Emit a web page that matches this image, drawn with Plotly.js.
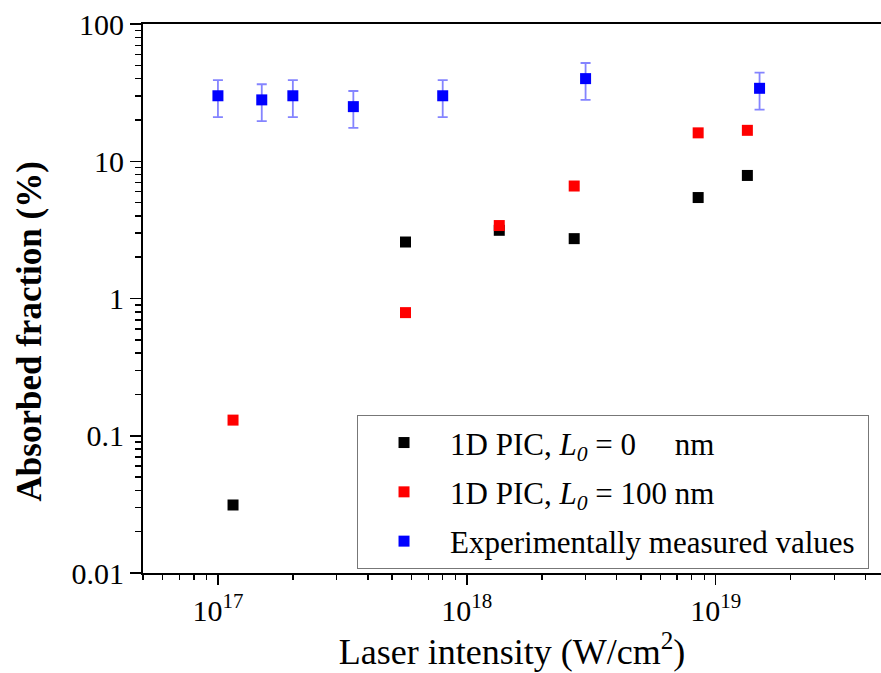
<!DOCTYPE html>
<html>
<head>
<meta charset="utf-8">
<script src="https://cdn.plot.ly/plotly-3.0.1.min.js"></script>
<style>html,body{margin:0;padding:0;background:#fff;overflow:hidden}</style>
</head>
<body>
<div id="chart" style="width:881px;height:673px"></div>
<script>
// PIC simulation intensities (W/cm^2)
const picIntensity = [1.15e17, 5.67e17, 1.35e18, 2.7e18, 8.5e18, 1.34e19];
// 1D PIC, L0 = 0 nm (%)
const pic0Absorbed = [0.0313, 2.58, 3.14, 2.73, 5.44, 7.88];
// 1D PIC, L0 = 100 nm (%)
const pic100Absorbed = [0.130, 0.789, 3.40, 6.6, 16.1, 16.8];
// Experiment
const expIntensity = [1.0e17, 1.5e17, 2.0e17, 3.5e17, 8.0e17, 3.0e18, 1.5e19];
const expAbsorbed = [30, 28, 30, 25, 30, 40, 34];
const expError = [9, 8.4, 9, 7.5, 9, 12, 10.2];

const seriesNames = [
  '1D PIC, <i>L</i><sub><i>0</i></sub> = 0\u00a0\u00a0\u00a0\u00a0\u00a0nm',
  '1D PIC, <i>L</i><sub><i>0</i></sub> = 100 nm',
  'Experimentally measured values\u00a0'
];
const xTickVals = [1e17, 1e18, 1e19];
const xTickText = ['10<sup>17</sup>', '10<sup>18</sup>', '10<sup>19</sup>'];
const yTickVals = [0.01, 0.1, 1, 10, 100];
const yTickText = ['0.01', '0.1', '1', '10', '100'];
const yTitle = '<b>Absorbed fraction (%)</b>';
const xTitle = 'Laser intensity (W/cm<sup>2</sup>)';

const FONT = 'Liberation Serif, Times New Roman, serif';

const traces = [
  {x: picIntensity, y: pic0Absorbed, name: seriesNames[0], type: 'scatter', mode: 'markers', legendgroup: 'a',
   marker: {symbol: 'square', size: 11, color: '#000000'}},
  {x: picIntensity, y: pic100Absorbed, name: seriesNames[1], type: 'scatter', mode: 'markers', legendgroup: 'b',
   marker: {symbol: 'square', size: 11, color: '#ff0000'}},
  {x: expIntensity, y: expAbsorbed, name: seriesNames[2], type: 'scatter', mode: 'markers', legendgroup: 'c',
   marker: {symbol: 'square', size: 11, color: '#0000ff'},
   error_y: {type: 'data', array: expError, visible: true, color: 'rgba(50,50,255,0.6)', thickness: 1.8, width: 5}}
];

const layout = {
  width: 881, height: 673,
  margin: {l: 143, r: 0, t: 24, b: 100},
  paper_bgcolor: '#fff', plot_bgcolor: '#fff',
  font: {family: FONT, color: '#000', size: 30},
  showlegend: true,
  legend: {
    x: 0.29, y: 0.288, xanchor: 'left', yanchor: 'top',
    bgcolor: '#fff', bordercolor: '#777', borderwidth: 1,
    font: {family: FONT, size: 31, color: '#000'},
    traceorder: 'grouped', tracegroupgap: 6, itemwidth: 82
  },
  xaxis: {
    type: 'log', range: [Math.log10(5e16), 19.664],
    showgrid: false, zeroline: false,
    showline: true, linecolor: '#000', linewidth: 2, mirror: true,
    ticks: 'outside', ticklen: 10, tickwidth: 1.5, tickcolor: '#000',
    tickvals: xTickVals, ticktext: xTickText,
    tickfont: {family: FONT, size: 30, color: '#000'},
    minor: {dtick: 'D1', ticks: 'outside', ticklen: 5, tickwidth: 1.5, tickcolor: '#000', showgrid: false},
    title: {text: xTitle, font: {family: FONT, size: 36, color: '#000'}, standoff: 8}
  },
  yaxis: {
    type: 'log', range: [-2, 2],
    showgrid: false, zeroline: false,
    showline: true, linecolor: '#000', linewidth: 2,
    ticks: 'outside', ticklen: 11, tickwidth: 1.5, tickcolor: '#000',
    tickvals: yTickVals, ticktext: yTickText,
    tickfont: {family: FONT, size: 30, color: '#000'},
    minor: {dtick: 'D1', ticks: 'outside', ticklen: 6, tickwidth: 1.5, tickcolor: '#000', showgrid: false}
  },
  annotations: [{
    text: yTitle, textangle: -90, showarrow: false,
    xref: 'paper', yref: 'paper', x: -0.1545, y: 0.44, xanchor: 'center', yanchor: 'middle',
    font: {family: FONT, size: 35, color: '#000'}
  }]
};

Plotly.newPlot('chart', traces, layout, {displayModeBar: false, staticPlot: true});
</script>
</body>
</html>
